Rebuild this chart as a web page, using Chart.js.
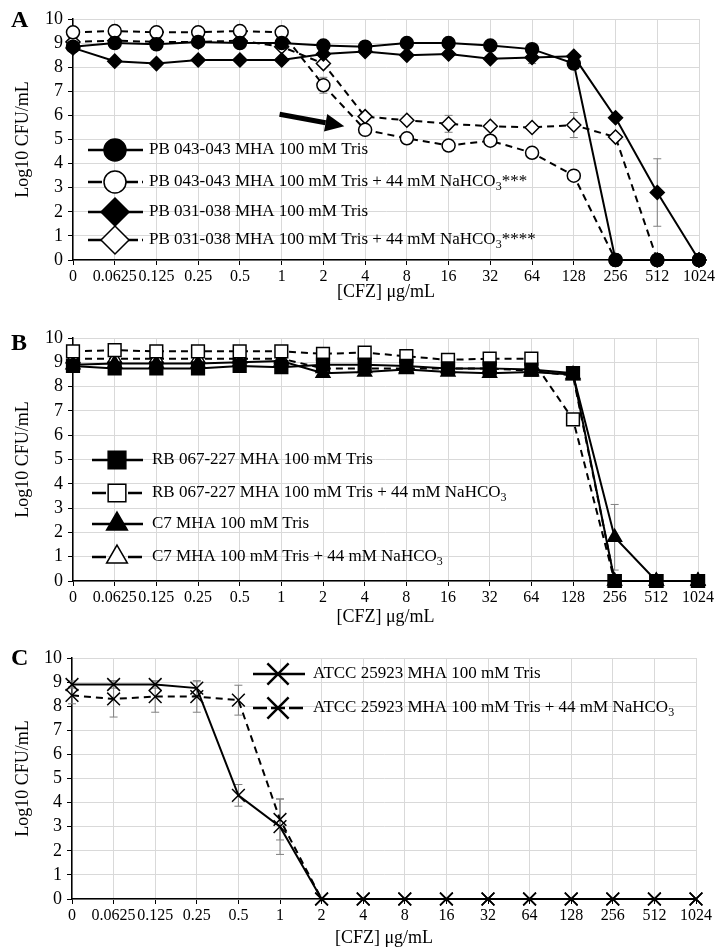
<!DOCTYPE html>
<html>
<head>
<meta charset="utf-8">
<script src="https://cdn.jsdelivr.net/npm/chart.js@4.4.1/dist/chart.umd.min.js"></script>
<style>
  body { margin: 0; background: #fff; }
  #wrap { position: relative; width: 715px; height: 949px; }
  .panel { position: absolute; left: 0; width: 715px; }
</style>
</head>
<body>
<div id="wrap">
  <div class="panel" style="top:0;height:304px"><canvas id="chartA"></canvas></div>
  <div class="panel" style="top:304px;height:326px"><canvas id="chartB"></canvas></div>
  <div class="panel" style="top:630px;height:319px"><canvas id="chartC"></canvas></div>
</div>
<script>
// x categories (CFZ concentration, µg/mL)
const concentrations = ['0', '0.0625', '0.125', '0.25', '0.5', '1', '2', '4', '8', '16', '32', '64', '128', '256', '512', '1024'];

// Panel A
const pb043Tris      = [8.85, 9.0, 8.95, 9.05, 9.0, 9.0, 8.9, 8.85, 9.0, 9.0, 8.9, 8.75, 8.15, 0, 0, 0];
const pb043Bicarb    = [9.45, 9.5, 9.45, 9.45, 9.5, 9.45, 7.25, 5.4, 5.05, 4.75, 4.95, 4.45, 3.5, 0, 0, 0];
const pb031Tris      = [8.8, 8.25, 8.15, 8.3, 8.3, 8.3, 8.55, 8.65, 8.5, 8.55, 8.35, 8.4, 8.45, 5.9, 2.8, 0];
const pb031Bicarb    = [9.05, 9.1, 9.05, 9.05, 9.1, 8.85, 8.15, 5.95, 5.8, 5.65, 5.55, 5.5, 5.6, 5.1, 0, 0];
const pb043TrisErr   = [0.1, null, null, null, null, null, null, null, null, null, null, null, 0.1, null, null, null];
const pb043BicarbErr = [null, null, null, null, null, null, 0.33, null, null, null, null, null, null, null, null, null];
const pb031TrisErr   = [null, null, null, null, null, null, null, null, null, null, null, 0.25, null, 0.12, 1.4, null];
const pb031BicarbErr = [null, null, null, null, null, null, 0.15, null, null, 0.35, null, null, 0.52, null, null, null];

// Panel B
const rb067Tris      = [8.85, 8.75, 8.75, 8.75, 8.85, 8.8, 8.9, 8.9, 8.85, 8.75, 8.75, 8.7, 8.55, 0, 0, 0];
const rb067Bicarb    = [9.45, 9.5, 9.45, 9.45, 9.45, 9.45, 9.35, 9.4, 9.25, 9.1, 9.15, 9.15, 6.65, 0, 0, 0];
const c7Tris         = [8.9, 8.95, 8.95, 8.95, 9.0, 9.05, 8.55, 8.6, 8.7, 8.6, 8.55, 8.6, 8.5, 1.8, 0, 0];
const c7Bicarb       = [9.15, 9.15, 9.15, 9.15, 9.15, 9.15, 8.75, 8.75, 8.75, 8.75, 8.75, 8.65, 8.45, 0, 0, 0];
const c7TrisErr      = [null, null, null, null, null, null, null, null, null, null, null, null, null, 1.35, null, null];

// Panel C
const atccTris       = [8.9, 8.9, 8.9, 8.75, 4.3, 3.0, 0, 0, 0, 0, 0, 0, 0, 0, 0, 0];
const atccBicarb     = [8.45, 8.3, 8.4, 8.4, 8.25, 3.3, 0, 0, 0, 0, 0, 0, 0, 0, 0, 0];
const atccTrisErr    = [0.15, 0.15, 0.15, 0.3, 0.45, 1.15, null, null, null, null, null, null, null, null, null, null];
const atccBicarbErr  = [0.35, 0.75, 0.65, 0.65, 0.62, 0.85, null, null, null, null, null, null, null, null, null, null];

const serif = "'Liberation Serif', 'Times New Roman', serif";

function series(label, data, errors, solid, pointStyle, radius, legendRadius) {
  return {
    label: label,
    data: data,
    errors: errors,
    borderColor: '#000',
    borderWidth: 2,
    borderDash: solid ? [] : [7, 5],
    pointStyle: pointStyle,
    pointRadius: radius,
    pointBackgroundColor: solid ? '#000' : '#fff',
    pointBorderColor: '#000',
    pointBorderWidth: 1.5,
    legendRadius: legendRadius,
    tension: 0,
    clip: false
  };
}

// gray error bars, drawn under the markers
const errorBars = {
  id: 'errorBars',
  beforeDatasetsDraw(chart) {
    const { ctx, scales: { x, y } } = chart;
    ctx.save();
    ctx.strokeStyle = '#808080';
    ctx.lineWidth = 1;
    chart.data.datasets.forEach(ds => {
      if (!ds.errors) return;
      ds.errors.forEach((e, j) => {
        if (e == null) return;
        const px = x.getPixelForValue(j);
        const hi = y.getPixelForValue(Math.min(ds.data[j] + e, 10));
        const lo = y.getPixelForValue(Math.max(ds.data[j] - e, 0));
        ctx.beginPath();
        ctx.moveTo(px, hi); ctx.lineTo(px, lo);
        ctx.moveTo(px - 4, hi); ctx.lineTo(px + 4, hi);
        ctx.moveTo(px - 4, lo); ctx.lineTo(px + 4, lo);
        ctx.stroke();
      });
    });
    ctx.restore();
  }
};

function drawLabel(ctx, text, x, y) {
  ctx.fillStyle = '#000';
  ctx.textBaseline = 'middle';
  ctx.textAlign = 'left';
  ctx.font = '17px ' + serif;
  const k = text.indexOf('NaHCO3');
  if (k < 0) { ctx.fillText(text, x, y); return; }
  const head = text.slice(0, k + 5);
  const tail = text.slice(k + 6);
  ctx.fillText(head, x, y);
  let cx = x + ctx.measureText(head).width;
  ctx.font = '12px ' + serif;
  ctx.fillText('3', cx, y + 5);
  cx += ctx.measureText('3').width;
  ctx.font = '17px ' + serif;
  ctx.fillText(tail, cx, y);
}

// legend inside the plot, one row per dataset
const inLegend = {
  id: 'inLegend',
  afterDraw(chart, args, opts) {
    if (!opts.rows) return;
    const ctx = chart.ctx;
    chart.data.datasets.forEach((ds, i) => {
      const y = opts.rows[i];
      ctx.save();
      ctx.strokeStyle = '#000';
      ctx.lineWidth = 2.5;
      ctx.setLineDash(ds.borderDash.length ? [14, 4] : []);
      ctx.beginPath();
      ctx.moveTo(opts.x0, y);
      ctx.lineTo(opts.x1, y);
      ctx.stroke();
      ctx.setLineDash([]);
      ctx.fillStyle = ds.pointBackgroundColor;
      ctx.lineWidth = ds.pointStyle === 'crossRot' ? 2.5 : 1.5;
      Chart.helpers.drawPoint(ctx, { pointStyle: ds.pointStyle, radius: ds.legendRadius, rotation: 0, borderWidth: ctx.lineWidth }, opts.xm, y);
      drawLabel(ctx, ds.label, opts.xt, y);
      ctx.restore();
    });
  }
};

const panelLetter = {
  id: 'panelLetter',
  afterDraw(chart, args, opts) {
    if (!opts.text) return;
    const ctx = chart.ctx;
    ctx.save();
    ctx.fillStyle = '#000';
    ctx.font = 'bold 24px ' + serif;
    ctx.textBaseline = 'alphabetic';
    ctx.textAlign = 'left';
    ctx.fillText(opts.text, opts.x, opts.y);
    ctx.restore();
  }
};

// the black arrow in panel A, given in data units
const arrowNote = {
  id: 'arrowNote',
  afterDatasetsDraw(chart, args, opts) {
    if (!opts.from) return;
    const { ctx, scales: { x, y } } = chart;
    const x0 = x.getPixelForValue(opts.from[0]), y0 = y.getPixelForValue(opts.from[1]);
    const x1 = x.getPixelForValue(opts.to[0]), y1 = y.getPixelForValue(opts.to[1]);
    const a = Math.atan2(y1 - y0, x1 - x0);
    const head = 19, half = 9;
    const bx = x1 - head * Math.cos(a), by = y1 - head * Math.sin(a);
    ctx.save();
    ctx.strokeStyle = '#000';
    ctx.fillStyle = '#000';
    ctx.lineWidth = 5;
    ctx.beginPath();
    ctx.moveTo(x0, y0); ctx.lineTo(bx, by);
    ctx.stroke();
    ctx.beginPath();
    ctx.moveTo(x1, y1);
    ctx.lineTo(bx + half * Math.sin(a), by - half * Math.cos(a));
    ctx.lineTo(bx - half * Math.sin(a), by + half * Math.cos(a));
    ctx.closePath();
    ctx.fill();
    ctx.restore();
  }
};

function makePanel(id, datasets, L, plugins) {
  const axisBottom = L.titleY + 10.8;
  const xHeight = axisBottom - L.plotBottom;
  const yWidth = L.plotLeft - 12;
  const grid = { color: '#d9d9d9', lineWidth: 1, tickColor: '#000', tickLength: 5 };
  const border = { color: '#000', width: 1.5 };
  return new Chart(document.getElementById(id), {
    type: 'line',
    data: { labels: concentrations, datasets: datasets },
    options: {
      responsive: true,
      maintainAspectRatio: false,
      animation: false,
      events: [],
      layout: { padding: { top: L.plotTop, left: 12, right: 715 - L.plotRight, bottom: L.H - axisBottom } },
      scales: {
        x: {
          offset: false,
          grid: Object.assign({ offset: false }, grid),
          border: border,
          ticks: { color: '#000', font: { family: serif, size: 16 }, maxRotation: 0, autoSkip: false, padding: 2 },
          title: { display: true, text: '[CFZ] μg/mL', color: '#000', font: { family: serif, size: 18 }, padding: 0 },
          afterFit(s) { s.height = xHeight; s.paddingLeft = 0; s.paddingRight = 0; }
        },
        y: {
          min: 0,
          max: 10,
          grid: grid,
          border: border,
          ticks: { stepSize: 1, autoSkip: false, color: '#000', font: { family: serif, size: 18 }, padding: 5 },
          title: { display: true, text: 'Log10 CFU/mL', color: '#000', font: { family: serif, size: 18 }, padding: 0 },
          afterFit(s) { s.width = yWidth; s.paddingTop = 0; s.paddingBottom = 0; }
        }
      },
      plugins: Object.assign({ legend: { display: false }, tooltip: { enabled: false } }, plugins)
    },
    plugins: [errorBars, arrowNote, inLegend, panelLetter]
  });
}

makePanel('chartA', [
  series('PB 043-043 MHA 100 mM Tris', pb043Tris, pb043TrisErr, true, 'circle', 6.5, 11),
  series('PB 043-043 MHA 100 mM Tris + 44 mM NaHCO3***', pb043Bicarb, pb043BicarbErr, false, 'circle', 6.5, 11),
  series('PB 031-038 MHA 100 mM Tris', pb031Tris, pb031TrisErr, true, 'rectRot', 7, 14),
  series('PB 031-038 MHA 100 mM Tris + 44 mM NaHCO3****', pb031Bicarb, pb031BicarbErr, false, 'rectRot', 7, 14)
], { H: 304, plotTop: 19, plotBottom: 260, plotLeft: 73, plotRight: 699, titleY: 292 }, {
  inLegend: { x0: 88, x1: 143, xm: 115, xt: 149, rows: [150, 182, 212, 240] },
  panelLetter: { text: 'A', x: 11, y: 27 },
  arrowNote: { from: [4.95, 6.05], to: [6.5, 5.55] }
});

makePanel('chartB', [
  series('RB 067-227 MHA 100 mM Tris', rb067Tris, null, true, 'rect', 9, 12.5),
  series('RB 067-227 MHA 100 mM Tris + 44 mM NaHCO3', rb067Bicarb, null, false, 'rect', 9, 12.5),
  series('C7 MHA 100 mM Tris', c7Tris, c7TrisErr, true, 'triangle', 8, 12),
  series('C7 MHA 100 mM Tris + 44 mM NaHCO3', c7Bicarb, null, false, 'triangle', 8, 12)
], { H: 326, plotTop: 34, plotBottom: 277, plotLeft: 73, plotRight: 698, titleY: 313 }, {
  inLegend: { x0: 92, x1: 143, xm: 117, xt: 152, rows: [156, 189, 220, 253] },
  panelLetter: { text: 'B', x: 11, y: 46 }
});

makePanel('chartC', [
  series('ATCC 25923 MHA 100 mM Tris', atccTris, atccTrisErr, true, 'crossRot', 9, 15),
  series('ATCC 25923 MHA 100 mM Tris + 44 mM NaHCO3', atccBicarb, atccBicarbErr, false, 'crossRot', 9, 15)
], { H: 319, plotTop: 28, plotBottom: 269, plotLeft: 72, plotRight: 696, titleY: 308 }, {
  inLegend: { x0: 253, x1: 305, xm: 278, xt: 313, rows: [44, 78] },
  panelLetter: { text: 'C', x: 11, y: 35 }
});
</script>
</body>
</html>
